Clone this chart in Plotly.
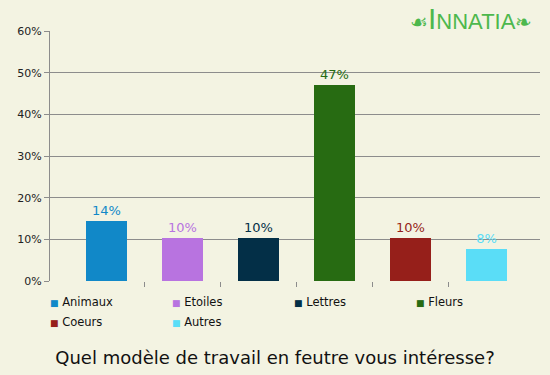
import plotly.graph_objects as go

categories = ["Animaux", "Etoiles", "Lettres", "Fleurs", "Coeurs", "Autres"]
values = [14.4, 10.3, 10.3, 47.0, 10.3, 7.7]
labels = ["14%", "10%", "10%", "47%", "10%", "8%"]
colors = ["#1188C8", "#B873E0", "#032F47", "#276B12", "#961F1A", "#5ADDF7"]
y_ticks = [0, 10, 20, 30, 40, 50, 60]
y_ticklabels = ["0%", "10%", "20%", "30%", "40%", "50%", "60%"]
title = "Quel modèle de travail en feutre vous intéresse?"

BG = "#F3F3E2"
GRID = "#8C8C8C"
FONT = "DejaVu Sans"

W, H = 550, 375
ML, MR, MT, MB = 50, 10, 31, 94
PW = W - ML - MR
PH = H - MT - MB

xs = list(range(len(categories)))

fig = go.Figure()
fig.add_trace(go.Bar(
    x=xs, y=values, width=0.54,
    marker=dict(color=colors, line=dict(width=0)),
    text=labels, textposition="outside", cliponaxis=False,
    textfont=dict(family=FONT, size=13, color=colors),
    showlegend=False, hoverinfo="skip",
))

annotations = []
# legend (4 columns)
col_w = 122
for i, (name, c) in enumerate(zip(categories, colors)):
    col, row = i % 4, i // 4
    px = ML + col * col_w - 2
    py = 302 + row * 20
    annotations.append(dict(
        xref="paper", yref="paper",
        x=(px - ML) / PW, y=(H - MB - py) / PH,
        xanchor="left", yanchor="middle", showarrow=False,
        text=f'<span style="color:{c};font-size:9px">■</span> {name}',
        font=dict(family=FONT, size=11.5, color="#111111"),
    ))

# logo
annotations.append(dict(
    xref="paper", yref="paper",
    x=(471 - ML) / PW, y=1.0, yshift=-5, xanchor="center", yanchor="bottom", showarrow=False,
    borderpad=0,
    text='<span style="font-size:20px">☙</span><span style="font-size:30px">I</span>NNATIA<span style="font-size:20px">❧</span>',
    font=dict(family="Liberation Sans", size=22, color="#4DB84D"),
))

fig.update_layout(
    width=W, height=H,
    margin=dict(l=ML, r=MR, t=MT, b=MB, pad=0),
    paper_bgcolor=BG, plot_bgcolor=BG,
    font=dict(family=FONT, size=11, color="#222222"),
    title=dict(text=title, x=0.5, xanchor="center", xref="container",
               y=1 - 358 / H, yanchor="middle", yref="container",
               font=dict(family=FONT, size=18, color="#111111")),
    xaxis=dict(range=[-0.743, 5.70], tickvals=[0.5, 1.5, 2.5, 3.5, 4.5],
               showticklabels=False, ticks="outside", ticklen=5, tickcolor=GRID,
               showgrid=False, zeroline=False, showline=False, fixedrange=True),
    yaxis=dict(range=[0, 60], tickvals=y_ticks, ticktext=y_ticklabels,
               ticks="outside", ticklen=5, tickcolor=GRID,
               showgrid=True, gridcolor=GRID, gridwidth=1,
               showline=True, linecolor=GRID, linewidth=1,
               zeroline=False, tickfont=dict(family=FONT, size=11, color="#222222"),
               fixedrange=True),
    annotations=annotations,
    bargap=0,
)

fig.write_html("out.html", config={"displayModeBar": False},
               post_script="document.body.style.margin='0';document.body.style.overflow='hidden';")
